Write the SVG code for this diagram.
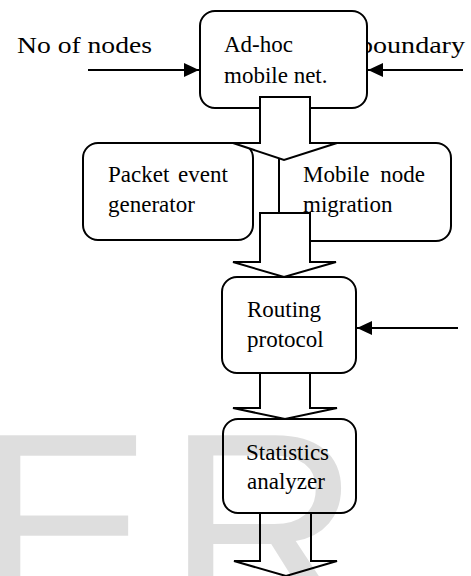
<svg xmlns="http://www.w3.org/2000/svg" width="471" height="576" viewBox="0 0 471 576">
<style>
.box{fill:#fff;stroke:#000;stroke-width:2}
.lbl{font-family:"Liberation Serif","Times New Roman",serif;font-size:23px;fill:#000}
.blk{fill:#fff;stroke:#000;stroke-width:2;stroke-linejoin:miter}
.ln{stroke:#000;stroke-width:2.2;fill:none}
.wm{font-family:"Liberation Sans",Arial,sans-serif;font-size:270px;fill:#000;fill-opacity:0.13}
</style>
<defs>
<marker id="ah" markerUnits="userSpaceOnUse" markerWidth="16" markerHeight="16" viewBox="0 0 16 16" refX="15" refY="8" orient="auto">
<path d="M0,1 L15,8 L0,15 Z" fill="#000"/>
</marker>
</defs>
<rect width="471" height="576" fill="#fff"/>
<g id="labels">
<text class="lbl" x="17" y="53" textLength="135" lengthAdjust="spacingAndGlyphs">No of nodes</text>
<text class="lbl" x="359" y="53" textLength="106" lengthAdjust="spacingAndGlyphs">boundary</text>
</g>
<g id="nodes">
<g id="adhoc">
<rect class="box" x="200" y="11" width="167" height="97" rx="15"/>
<text class="lbl" x="224" y="52">Ad-hoc</text>
<text class="lbl" x="224" y="83">mobile net.</text>
</g>
<g id="mobile">
<rect class="box" x="279" y="143" width="172" height="98" rx="15"/>
<text class="lbl" x="303" y="182" word-spacing="5">Mobile node</text>
<text class="lbl" x="303" y="212">migration</text>
</g>
<g id="packet">
<rect class="box" x="83" y="143" width="170" height="97" rx="15"/>
<text class="lbl" x="108" y="182" word-spacing="3">Packet event</text>
<text class="lbl" x="108" y="212">generator</text>
</g>
<g id="routing">
<rect class="box" x="222" y="277" width="134" height="96" rx="15"/>
<text class="lbl" x="247" y="317">Routing</text>
<text class="lbl" x="247" y="347">protocol</text>
</g>
<g id="stats">
<rect class="box" x="223" y="419" width="133" height="94" rx="15"/>
<text class="lbl" x="246" y="460">Statistics</text>
<text class="lbl" x="247" y="489">analyzer</text>
</g>
</g>
<g id="connectors">
<polygon class="blk" points="260,97 310,97 310,143 337,143 284,160 233,143 260,143"/>
<polygon class="blk" points="260,213 310,213 310,262 336,262 284,277 233,262 260,262"/>
<polygon class="blk" points="260,373 310,373 310,408 337,408 285,419 233,408 260,408"/>
<polygon class="blk" points="260,513 311,513 311,561 337,561 286,576 234,561 260,561"/>
<line class="ln" x1="88" y1="70" x2="199" y2="70" marker-end="url(#ah)"/>
<line class="ln" x1="463" y1="70" x2="368" y2="70" marker-end="url(#ah)"/>
<line class="ln" x1="458" y1="328" x2="357" y2="328" marker-end="url(#ah)"/>
</g>
<g id="watermark">
<text class="wm" x="-27" y="621">E</text>
<text class="wm" x="166" y="621">R</text>
</g>
</svg>
